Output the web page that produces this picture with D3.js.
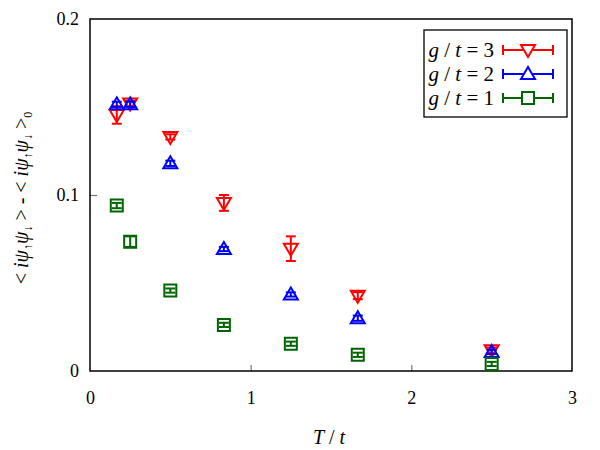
<!DOCTYPE html>
<html>
<head>
<meta charset="utf-8">
<script src="https://cdn.jsdelivr.net/npm/d3@7"></script>
<style>
  svg text, svg tspan { font-family: "Liberation Serif", "Tinos", "Times New Roman", serif !important; }
</style>
</head>
<body style="margin:0">
<script>
// T/t values (beta = 6, 4, 2, 1.2, 0.8, 0.6, 0.4)
const temps = [1/6, 0.25, 0.5, 5/6, 1.25, 5/3, 2.5];

const g3Vals = [0.1455, 0.152, 0.133, 0.0955, 0.0695, 0.0428, 0.0118];
const g3Errs = [0.0050, 0.0015, 0.0015, 0.0045, 0.0070, 0.0020, 0.0015];
const g2Vals = [0.1515, 0.1515, 0.118, 0.0693, 0.0435, 0.0300, 0.0108];
const g2Errs = [0.0015, 0.0015, 0.0015, 0.0012, 0.0012, 0.0015, 0.0012];
const g1Vals = [0.0940, 0.0735, 0.0457, 0.0262, 0.0155, 0.0092, 0.0040];
const g1Errs = [0.0015, 0.0030, 0.0012, 0.0012, 0.0012, 0.0012, 0.0012];

const seriesNames = ["g / t = 3", "g / t = 2", "g / t = 1"];
const xTicks = [0, 1, 2, 3];
const yTicks = [0, 0.1, 0.2];

const W = 600, H = 450;
const margin = {left: 90, right: 28, top: 19, bottom: 79};
const FONT = '"Liberation Serif"';

const svg = d3.select("body").append("svg").attr("width", W).attr("height", H);

const x = d3.scaleLinear().domain([0, 3]).range([margin.left, W - margin.right]);
const y = d3.scaleLinear().domain([0, 0.2]).range([H - margin.bottom, margin.top]);

// inward ticks, grey
const xAxis = svg.append("g")
    .attr("transform", `translate(0,${H - margin.bottom})`)
    .call(d3.axisBottom(x).tickValues(xTicks).tickSizeInner(-6).tickSizeOuter(0).tickPadding(20).tickFormat(d3.format("d")));
const yAxis = svg.append("g")
    .attr("transform", `translate(${margin.left},0)`)
    .call(d3.axisLeft(y).tickValues(yTicks).tickSizeInner(-7).tickSizeOuter(0).tickPadding(11).tickFormat(d => d === 0 ? "0" : d3.format(".1f")(d)));
[xAxis, yAxis].forEach(a => {
    a.attr("font-family", null).attr("font-size", null);
    a.select(".domain").remove();
    a.selectAll(".tick line").attr("stroke", "#777").attr("stroke-width", 1.2);
    a.selectAll(".tick text").attr("fill", "#000")
        .style("font-family", FONT).style("font-size", "18px");
});
xAxis.selectAll(".tick").filter(d => d === 0 || d === 3).select("line").remove();
yAxis.selectAll(".tick").filter(d => d === 0 || d === 0.2).select("line").remove();

// frame
svg.append("rect")
    .attr("x", x(0)).attr("y", y(0.2))
    .attr("width", x(3) - x(0)).attr("height", y(0) - y(0.2))
    .attr("fill", "none").attr("stroke", "#000").attr("stroke-width", 1.5);

const series = [
    {name: seriesNames[0], vals: g3Vals, errs: g3Errs, color: "#ff0000", shape: "down"},
    {name: seriesNames[1], vals: g2Vals, errs: g2Errs, color: "#0000ff", shape: "up"},
    {name: seriesNames[2], vals: g1Vals, errs: g1Errs, color: "#006400", shape: "square"}
];

function markerPath(shape) {
    if (shape === "square") return "M-6,-6H6V6H-6Z";
    if (shape === "up") return "M0,-7L7,5H-7Z";
    return "M0,7L7,-5H-7Z";
}

series.forEach(s => {
    const g = svg.append("g");
    const pts = temps.map((t, i) => ({t: t, v: s.vals[i], e: s.errs[i]}));
    const p = g.selectAll("g").data(pts).enter().append("g");
    p.append("line")
        .attr("x1", d => x(d.t)).attr("x2", d => x(d.t))
        .attr("y1", d => y(d.v - d.e)).attr("y2", d => y(d.v + d.e))
        .attr("stroke", s.color).attr("stroke-width", 2);
    [-1, 1].forEach(sign => {
        p.append("line")
            .attr("x1", d => x(d.t) - 5).attr("x2", d => x(d.t) + 5)
            .attr("y1", d => y(d.v + sign * d.e)).attr("y2", d => y(d.v + sign * d.e))
            .attr("stroke", s.color).attr("stroke-width", 2);
    });
    p.append("path")
        .attr("d", markerPath(s.shape))
        .attr("transform", d => `translate(${x(d.t)},${y(d.v)})`)
        .attr("fill", "none").attr("stroke", s.color).attr("stroke-width", 2);
});

// legend
const leg = svg.append("g");
leg.append("rect").attr("x", 424).attr("y", 30).attr("width", 143).attr("height", 87)
    .attr("fill", "#fff").attr("stroke", "#000").attr("stroke-width", 1.3);
series.forEach((s, i) => {
    const cy = 50 + i * 24;
    const t = leg.append("text").attr("x", 494).attr("y", cy + 7).attr("text-anchor", "end")
        .style("font-family", FONT).style("font-size", "21px");
    const parts = s.name.split(" ");
    t.append("tspan").style("font-style", "italic").text(parts[0]);
    t.append("tspan").text(" / ");
    t.append("tspan").style("font-style", "italic").text(parts[2]);
    t.append("tspan").text(" = " + parts[4]);
    leg.append("line").attr("x1", 503).attr("x2", 553).attr("y1", cy).attr("y2", cy)
        .attr("stroke", s.color).attr("stroke-width", 2);
    [503, 553].forEach(xx => leg.append("line").attr("x1", xx).attr("x2", xx)
        .attr("y1", cy - 5).attr("y2", cy + 5).attr("stroke", s.color).attr("stroke-width", 2));
    leg.append("path").attr("d", markerPath(s.shape))
        .attr("transform", `translate(528,${cy})`)
        .attr("fill", "#fff").attr("stroke", s.color).attr("stroke-width", 2);
});

// x label
const xl = svg.append("text").attr("x", 329).attr("y", 444).attr("text-anchor", "middle")
    .style("font-family", FONT).style("font-size", "20px");
xl.append("tspan").style("font-style", "italic").text("T");
xl.append("tspan").text(" / ");
xl.append("tspan").style("font-style", "italic").text("t");

// y label
const yl = svg.append("text").attr("transform", "translate(28,198) rotate(-90)")
    .attr("text-anchor", "middle").style("font-family", FONT).style("font-size", "20px");
function corr(el) {
    el.append("tspan").text("< ");
    el.append("tspan").style("font-style", "italic").text("i\u03C8");
    el.append("tspan").style("font-size", "12px").attr("dy", 4).text("\u2191");
    el.append("tspan").style("font-style", "italic").attr("dy", -4).text("\u03C8");
    el.append("tspan").style("font-size", "12px").attr("dy", 4).text("\u2193");
    el.append("tspan").attr("dy", -4).text(" >");
}
corr(yl);
yl.append("tspan").text(" - ");
corr(yl);
yl.append("tspan").style("font-size", "12px").attr("dy", 4).text("0");
</script>
</body>
</html>
